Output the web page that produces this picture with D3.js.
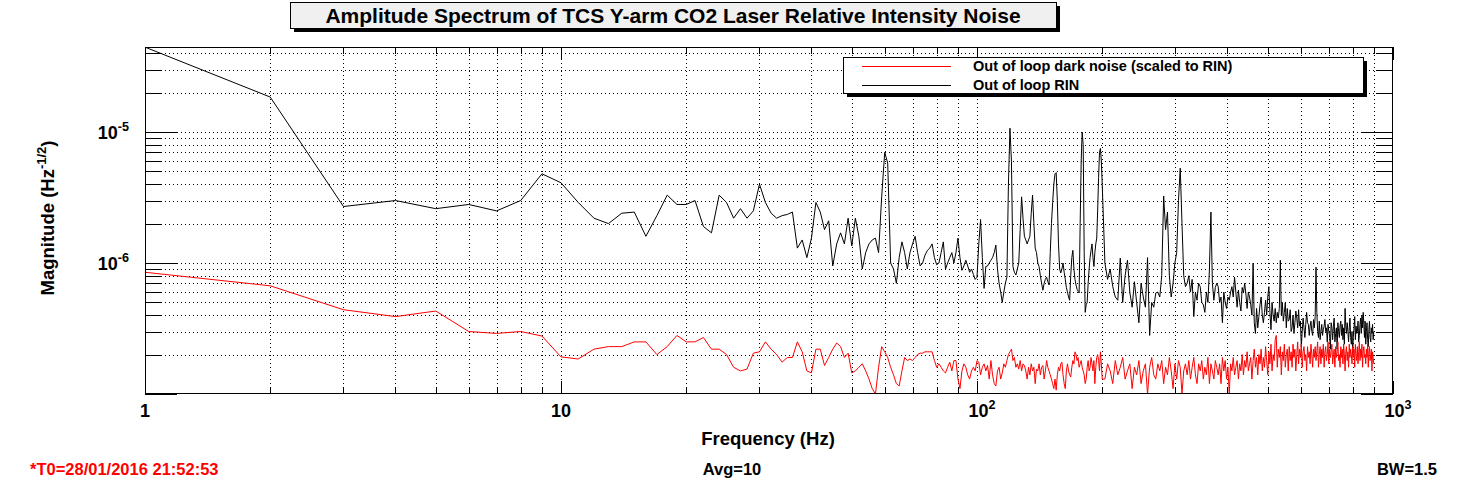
<!DOCTYPE html>
<html><head><meta charset="utf-8">
<script src="https://cdn.jsdelivr.net/npm/d3@7"></script>
<style>body{margin:0;background:#fff}svg{display:block}text{font-family:"Liberation Sans",Arial,sans-serif;font-weight:bold}</style>
</head><body><svg id="c" width="1465" height="484"></svg>
<script>
// Values in units of 1e-7 (Hz^-1/2)
const freqA = d3.range(1, 201, 1);      // 1 Hz bins up to 200 Hz
const freqB = d3.range(203, 900, 3);    // every 3rd bin above 200 Hz
const rinA = [445,185,27,30,26,28,25,30,48,41,29,22,20,24,24.5,16,23,33,28,28,30,19,17,33,29,22,26,22,25,40,29,24,22,23,23.5,24.5,13,15,11,15.5,29,24.5,18,21,9.5,14,17,14,22,13.5,
22,16,9,12,14,15,15.5,12,32,70,58,10,9,7,11,14.5,12,9,12,14,16,12,9.5,10,11.5,12.5,13,14,11,9.7,10,12,14.5,9,10,11,12,10,12,15.5,11,8.8,9.5,10.5,9.5,8.5,9,8.2,7.5,7.8,
14,21.5,11,6.4,9.4,9.5,10,10.5,11,12,13.7,9,7,6,5,6,7,7.8,40,107,60,9.4,8.5,8.1,9,10,18,32,22,16,15,14,15,16,24,33,20,13,12,10,9.4,8,7,6.2,7,7.5,7.8,7.2,6.8,12,
20,29,40,48,49,30,14,9,8.4,9,10,8.5,7.5,6.5,6,5.5,5.2,8,11,12.5,9,7.5,6.8,6.3,6.1,5.9,20,60,100,80,12,4.2,4.8,5,7,9,11,12.5,14,11,9.4,12,14,15.5,25,45,70,75,60,40];
const rinB = [10,7.5,9,6.6,5.5,5.2,10.9,5,8,10.5, 6,4.6,7.2,5,3.5,7,5.5,4.6,11,2.8, 5,4.6,5.9,6,5.5,8,32.5,18,24.5,8,
5.5,7,10,12,30,53,20,8,6.6,7, 8,6,7.5,3.9,6,5.2,7,6.6,5,4.8, 4.2,6,5,9,24.5,7,5.2,6.5,7,6.6, 5,5.5,3.5,6,5,4.5,5.5,5.2,6,6.6,
5.5,7.8,6,4.6,6.2,5,4.3,6.5,5.9,7, 5.8,4.5,6,5.5,4.8,4,10,3.5,2.9,4.5, 3.2,3.9,4.8,5.5,4,3.5,4.2,5.2,4,5.5, 6.6,4.2,3.1,5,4,3.6,4.5,3.5,4.2,3.8,
4.5,10.5,4,5,3.6,4.2,5,3.2,4.5,3.6, 3.7,4.4,3,3.2,4,2.9,3.5,4.3,3.8,3.2, 4.4,3.3,3.6,2.3,3,3.8,3.2,2.7,3.4,4.2, 3.5,3.4,2.8,3.3,3.6,3,2.8,3.7,3.2,3.9,
9.3,4.2,3,2.7,3.6,2.6,3,3.4,2.8,3.1, 3.3,3.7,3,3.2,2.5,3.4,3.0,2.8,2.2,3.5, 3.2,2.6,3.3,3.8,2.5,2.9,3.2,2.2,3.5,3.0, 2.7,3.3,3.6,2.8,3.4,2.6,3.2,2.4,4.5,3.3,
2.9,3.5,3.0,2.5,3.2,3.8,2.7,2.4,3.0,2.05, 2.8,3.2,3.9,2.6,3.3,2.9,3.0,3.6,2.5,2.8, 3.4,3.8,2.9,4.0,3.2,4.2,3.4,2.7,3.6,2.4, 3.0,3.5,2.6,2.3,3.1,3.6,2.7,2.5,3.2,2.9,3.4,2.6,3.0];
const darkA = [8.5,6.7,4.4,3.9,4.3,3.0,2.9,3.0,2.77,1.92,1.85,2.2,2.3,2.3,2.5,2.5,2.0,2.3,2.8,2.5,2.5,2.7,2.2,2.2,2.0,1.6,1.5,1.55,2.05,2.1,2.5,2.2,2.0,1.75,1.9,1.9,2.5,2.1,1.5,1.45,2.2,2.2,1.65,1.9,2.2,2.45,2.3,1.9,2.05,1.45,
1.5,1.6,1.7,1.5,1.3,1.1,1.0,1.6,2.3,2.1,1.9,1.6,1.4,1.2,1.15,1.5,1.9,1.8,1.85,1.8,1.9,2.0,2.05,2.05,2.1,2.1,2.1,2.1,1.8,1.6,1.7,1.6,1.5,1.45,1.6,1.75,1.5,1.8,1.8,1.3,1.1,1.5,1.7,1.6,1.4,1.3,1.5,1.6,1.5,1.8,
1.75,1.4,1.6,1.7,1.5,1.65,1.3,1.8,1.4,1.2,1.15,1.5,1.6,1.3,1.45,1.7,1.6,1.8,2.0,2.1,2.2,1.8,1.9,1.6,1.7,1.55,1.8,1.5,1.7,1.65,1.5,1.3,1.6,1.4,1.7,1.5,1.6,1.2,1.55,1.5,1.7,1.4,1.6,1.65,1.3,1.5,1.8,1.6,1.5,1.4,
1.3,1.2,1.1,1.3,1.07,1.4,1.6,1.5,1.7,1.75,1.4,1.2,1.1,1.5,1.7,1.5,1.4,1.35,1.6,1.8,1.7,2.1,2.0,1.8,1.9,1.6,1.7,1.8,1.6,1.5,1.4,1.2,1.3,1.6,1.8,1.5,1.6,1.9,1.7,1.5,1.8,1.2,1.6,1.9,2.0,1.8,1.5,2.1,1.7,1.3];
const darkB = [1.3,1.7,1.5,1.2,1.8,1.4,1.6,1.9,1.3,1.5, 1.7,1.1,1.6,1.4,1.8,1.2,1.5,1.7,1.0,1.6, 1.9,1.4,1.3,1.7,1.5,1.8,1.2,1.6,1.4,1.9, 1.5,1.1,1.7,1.3,1.8,1.6,1.0,1.5,1.7,1.4,
1.8,1.3,1.6,1.9,1.4,1.2,1.7,1.5,1.8,1.3, 1.6,1.4,1.9,1.2,1.7,1.5,1.3,1.8,1.6,1.4, 1.7,1.2,1.9,1.5,1.8,1.3,1.6,1.0,1.7,1.5, 1.9,1.4,1.6,1.8,1.3,1.7,1.5,2.0,1.4,1.8,
1.6,2.1,1.5,1.7,1.9,1.3,1.8,2.2,1.6,1.9, 1.4,2.0,1.7,2.2,1.5,1.9,1.6,2.3,1.8,1.4, 2.1,1.7,2.4,1.5,2.0,1.8,2.6,2.8,1.6,2.2, 1.9,2.3,1.4,2.1,1.8,2.4,1.6,2.0,2.2,1.5,
2.3,1.8,2.1,1.6,2.4,1.9,2.2,1.5,2.0,2.5, 1.7,2.2,1.9,2.4,1.6,2.1,2.3,1.8,2.0,1.5, 2.3,1.9,2.1,1.7,2.4,2.0,1.6,2.2,1.9,2.3, 1.8,2.1,2.5,1.6,2.0,2.3,1.7,2.2,1.9,2.4,
1.6,2.1,2.3,1.8,2.0,2.5,1.7,2.2,1.9,2.1, 2.4,1.7,2.0,2.2,1.6,2.3,1.9,2.1,2.5,1.8, 2.0,1.6,2.3,1.9,2.2,1.7,2.4,2.0,1.5,2.1, 2.3,1.8,2.1,1.6,2.4,1.9,2.2,2.0,1.7,2.3,
1.9,2.2,1.6,2.4,2.0,1.8,2.3,1.7,2.1,2.5, 1.8,2.2,1.9,2.4,1.6,2.1,2.3,1.9,2.0,1.7, 2.2,1.9,2.4,1.6,2.1,2.3,1.8,2.0,2.2,1.5,2.1,1.9,1.7];
const xTickLabels = ["1","10","10<2>","10<3>"];
const yTickLabels = ["10<-6>","10<-5>"];
const legendLabels = ["Out of loop dark noise (scaled to RIN)","Out of loop RIN"];
const seriesColors = ["#ff0000","#000000"];

const svg = d3.select("#c");
const L=145,R=1393,T=47,B=394;
const x = d3.scaleLog().domain([1,1000]).range([L,R]);
const y = d3.scaleLog().domain([1e-7,4.46e-5]).range([B,T]);
const freqs = freqA.concat(freqB);
const rin = rinA.concat(rinB).map(v=>v*1e-7);
const dark = darkA.concat(darkB).map(v=>v*1e-7);

const xt=[]; for(let d=1;d<1000;d*=10) for(let m=1;m<10;m++) xt.push(d*m); xt.push(1000);
const yt=[]; for(let d=1e-7;d<1e-4;d*=10) for(let m=1;m<10;m++){const v=d*m; if(v>=1e-7*0.999&&v<=4.46e-5) yt.push(v);}
const g=svg.append("g");
xt.forEach(v=>{const px=Math.round(x(v))+0.5; const maj=Math.abs(Math.log10(v)%1)<1e-9;
  if(px>L+1&&px<R-1) g.append("line").attr("x1",px).attr("x2",px).attr("y1",T).attr("y2",B).attr("stroke","#000").attr("stroke-dasharray","1,3");
  const len=maj?13:7;
  g.append("line").attr("x1",px).attr("x2",px).attr("y1",B).attr("y2",B-len).attr("stroke","#000");
  g.append("line").attr("x1",px).attr("x2",px).attr("y1",T).attr("y2",T+len).attr("stroke","#000");});
yt.forEach(v=>{const py=Math.round(y(v))+0.5; const e=Math.log10(v); const maj=Math.abs(e-Math.round(e))<1e-6;
  if(py>T+1&&py<B-1) g.append("line").attr("x1",L).attr("x2",R).attr("y1",py).attr("y2",py).attr("stroke","#000").attr("stroke-dasharray","1,3");
  const len=maj?32:17;
  g.append("line").attr("x1",L).attr("x2",L+len).attr("y1",py).attr("y2",py).attr("stroke","#000");
  g.append("line").attr("x1",R).attr("x2",R-len).attr("y1",py).attr("y2",py).attr("stroke","#000");});

const line=d3.line().x((d,i)=>x(freqs[i])).y(d=>y(Math.max(d,1e-7)));
svg.append("clipPath").attr("id","cp").append("rect").attr("x",L).attr("y",T).attr("width",R-L).attr("height",B-T);
svg.append("path").attr("d",line(rin)).attr("fill","none").attr("stroke",seriesColors[1]).attr("stroke-width",1).attr("clip-path","url(#cp)");
svg.append("path").attr("d",line(dark)).attr("fill","none").attr("stroke",seriesColors[0]).attr("stroke-width",1).attr("clip-path","url(#cp)");
svg.append("rect").attr("x",L+0.5).attr("y",T+0.5).attr("width",R-L-1).attr("height",B-T-1).attr("fill","none").attr("stroke","#000");

function sup(sel,label,size){const m=label.match(/^(.*)<(.*)>$/);
  if(m){sel.append("tspan").text(m[1]);sel.append("tspan").attr("dy",-size*0.45).attr("font-size",size*0.7).text(m[2]);} else sel.text(label);}
[1,10,100,1000].forEach((v,i)=>{const t=svg.append("text").attr("x",x(v)+(i>1?5:0)).attr("y",417).attr("text-anchor","middle").attr("font-size",18);sup(t,xTickLabels[i],18);});
[1e-6,1e-5].forEach((v,i)=>{const t=svg.append("text").attr("x",129).attr("y",y(v)+7).attr("text-anchor","end").attr("font-size",18);sup(t,yTickLabels[i],18);});

svg.append("text").attr("x",768).attr("y",445).attr("text-anchor","middle").attr("font-size",18.5).text("Frequency (Hz)");
const yl=svg.append("text").attr("transform","translate(54,218) rotate(-90)").attr("text-anchor","middle").attr("font-size",18.5);
yl.append("tspan").text("Magnitude (Hz");yl.append("tspan").attr("dy",-8).attr("font-size",13).text("-1/2");yl.append("tspan").attr("dy",8).text(")");

svg.append("rect").attr("x",294).attr("y",6).attr("width",766).attr("height",26).attr("fill","#000");
svg.append("rect").attr("x",290.5).attr("y",2.5).attr("width",766).attr("height",26).attr("fill","#f0f0f0").attr("stroke","#000");
svg.append("text").attr("x",673).attr("y",23).attr("text-anchor","middle").attr("font-size",21).text("Amplitude Spectrum of TCS Y-arm CO2 Laser Relative Intensity Noise");

svg.append("rect").attr("x",847).attr("y",61).attr("width",520).attr("height",36).attr("fill","#000");
svg.append("rect").attr("x",843.5).attr("y",57.5).attr("width",520).attr("height",36).attr("fill","#fff").attr("stroke","#000");
legendLabels.forEach((s,i)=>{const yy=66+i*19;
  svg.append("line").attr("x1",862).attr("x2",951).attr("y1",yy+0.5).attr("y2",yy+0.5).attr("stroke",seriesColors[i]);
  svg.append("text").attr("x",973).attr("y",yy+5).attr("font-size",14.5).text(s);});

svg.append("text").attr("x",30).attr("y",475).attr("font-size",16.5).attr("fill","#ff0000").text("*T0=28/01/2016 21:52:53");
svg.append("text").attr("x",732).attr("y",475).attr("text-anchor","middle").attr("font-size",16.5).text("Avg=10");
svg.append("text").attr("x",1437).attr("y",475).attr("text-anchor","end").attr("font-size",16.5).text("BW=1.5");
</script></body></html>
